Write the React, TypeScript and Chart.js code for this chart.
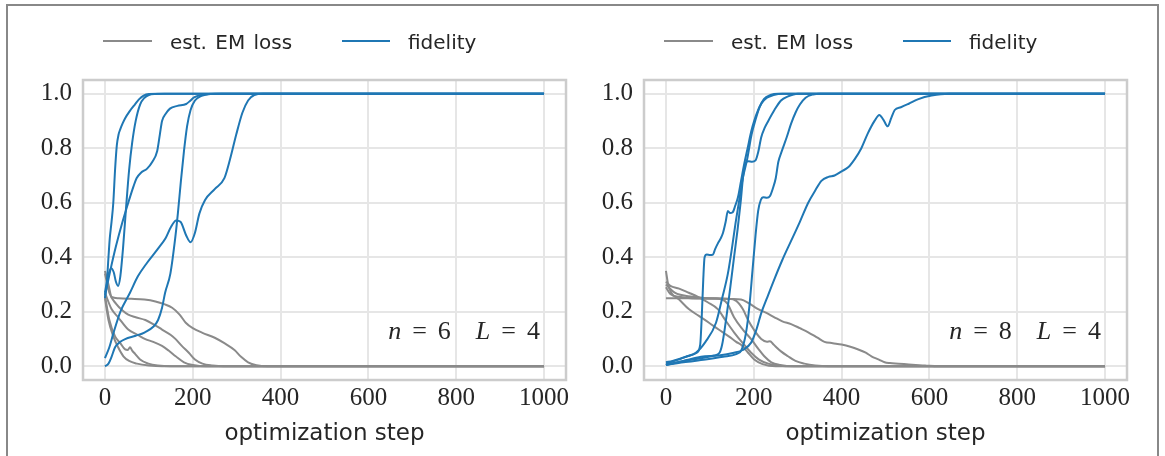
import React, { useEffect, useRef } from 'react';
import { Chart, registerables } from 'chart.js';

Chart.register(...registerables);

type Pt = [number, number];

// ---------- axis ticks & labels ----------
const X_TICKS = [0, 200, 400, 600, 800, 1000];
const Y_TICKS = [0, 0.2, 0.4, 0.6, 0.8, 1.0];
const X_TITLE = 'optimization step';
const LEGEND_LOSS = 'est. EM loss';
const LEGEND_FID = 'fidelity';
const PANEL_N = [6, 8];
const PANEL_L = [4, 4];

// ---------- panel 1 (n = 6) fidelity ----------
const fidN6Run1: Pt[] = [[0, 0.25], [4, 0.3], [8, 0.4], [11, 0.47], [15, 0.53], [19, 0.6], [23, 0.72], [27, 0.81], [31, 0.85], [35, 0.87], [40, 0.89], [46, 0.91], [56, 0.935], [68, 0.96], [78, 0.98], [88, 0.993], [100, 0.999], [120, 1], [1000, 1]];
const fidN6Run2: Pt[] = [[0, 0.27], [7, 0.33], [14, 0.36], [20, 0.345], [25, 0.31], [30, 0.295], [35, 0.33], [41, 0.43], [48, 0.58], [55, 0.72], [62, 0.82], [70, 0.9], [80, 0.96], [90, 0.985], [100, 0.995], [115, 0.999], [135, 1], [1000, 1]];
const fidN6Run3: Pt[] = [[0, 0.26], [12, 0.35], [25, 0.44], [40, 0.53], [55, 0.61], [65, 0.66], [72, 0.69], [82, 0.71], [96, 0.725], [108, 0.75], [119, 0.79], [125, 0.85], [130, 0.9], [138, 0.925], [148, 0.945], [165, 0.955], [185, 0.962], [195, 0.975], [203, 0.986], [220, 0.995], [250, 1], [1000, 1]];
const fidN6Run4: Pt[] = [[0, 0.03], [10, 0.07], [19, 0.12], [35, 0.2], [57, 0.27], [75, 0.33], [96, 0.38], [120, 0.43], [138, 0.47], [150, 0.51], [162, 0.535], [172, 0.53], [185, 0.48], [195, 0.455], [205, 0.49], [215, 0.56], [228, 0.61], [250, 0.65], [272, 0.69], [285, 0.76], [299, 0.85], [313, 0.93], [326, 0.975], [340, 0.995], [360, 1], [1000, 1]];
const fidN6Run5: Pt[] = [[0, 0.0], [8, 0.01], [15, 0.035], [23, 0.07], [35, 0.09], [46, 0.1], [70, 0.112], [91, 0.125], [110, 0.145], [121, 0.17], [130, 0.215], [137, 0.27], [149, 0.34], [160, 0.47], [166, 0.56], [173, 0.68], [180, 0.79], [187, 0.88], [195, 0.94], [205, 0.975], [220, 0.992], [240, 0.999], [265, 1], [1000, 1]];

// ---------- panel 1 (n = 6) est. EM loss ----------
const lossN6Run1: Pt[] = [[0, 0.35], [8, 0.3], [15, 0.255], [30, 0.25], [60, 0.248], [90, 0.245], [115, 0.238], [135, 0.228], [153, 0.215], [170, 0.19], [184, 0.16], [200, 0.14], [222, 0.123], [250, 0.105], [272, 0.085], [295, 0.06], [310, 0.035], [326, 0.015], [345, 0.004], [370, 0], [1000, 0]];
const lossN6Run2: Pt[] = [[0, 0.34], [10, 0.27], [25, 0.23], [40, 0.205], [53, 0.19], [70, 0.18], [92, 0.17], [110, 0.155], [130, 0.135], [150, 0.115], [161, 0.1], [175, 0.075], [191, 0.05], [205, 0.025], [222, 0.01], [245, 0.003], [270, 0], [1000, 0]];
const lossN6Run3: Pt[] = [[0, 0.27], [15, 0.21], [30, 0.18], [53, 0.135], [75, 0.115], [92, 0.1], [110, 0.09], [130, 0.075], [145, 0.058], [161, 0.037], [180, 0.015], [200, 0.005], [230, 0], [1000, 0]];
const lossN6Run4: Pt[] = [[0, 0.26], [10, 0.17], [23, 0.11], [35, 0.085], [46, 0.062], [52, 0.06], [57, 0.07], [62, 0.058], [69, 0.045], [80, 0.025], [99, 0.01], [120, 0.003], [150, 0], [1000, 0]];
const lossN6Run5: Pt[] = [[0, 0.25], [8, 0.17], [19, 0.11], [30, 0.07], [42, 0.037], [55, 0.02], [73, 0.01], [100, 0.003], [130, 0], [1000, 0]];

// ---------- panel 2 (n = 8) fidelity ----------
const fidN8Run1: Pt[] = [[0, 0.015], [15, 0.02], [35, 0.03], [55, 0.04], [70, 0.05], [78, 0.08], [82, 0.2], [85, 0.32], [88, 0.4], [93, 0.41], [100, 0.408], [107, 0.41], [112, 0.43], [118, 0.45], [125, 0.47], [130, 0.49], [136, 0.53], [141, 0.57], [146, 0.562], [152, 0.565], [158, 0.59], [164, 0.62], [171, 0.68], [178, 0.74], [186, 0.8], [194, 0.86], [201, 0.9], [210, 0.94], [218, 0.965], [230, 0.985], [245, 0.995], [265, 1], [1000, 1]];
const fidN8Run2: Pt[] = [[0, 0.01], [20, 0.02], [45, 0.035], [68, 0.05], [90, 0.09], [114, 0.16], [128, 0.25], [141, 0.34], [150, 0.43], [158, 0.52], [166, 0.6], [175, 0.69], [185, 0.76], [195, 0.85], [205, 0.91], [213, 0.95], [223, 0.98], [238, 0.995], [255, 1], [1000, 1]];
const fidN8Run3: Pt[] = [[0, 0.005], [40, 0.02], [80, 0.03], [110, 0.04], [122, 0.05], [128, 0.08], [135, 0.15], [145, 0.27], [155, 0.4], [163, 0.5], [170, 0.6], [176, 0.7], [181, 0.745], [188, 0.752], [196, 0.75], [204, 0.755], [210, 0.785], [217, 0.84], [225, 0.875], [233, 0.9], [247, 0.94], [262, 0.975], [278, 0.99], [300, 1], [1000, 1]];
const fidN8Run4: Pt[] = [[0, 0.005], [40, 0.015], [90, 0.025], [130, 0.035], [160, 0.045], [172, 0.06], [182, 0.12], [190, 0.22], [197, 0.35], [204, 0.48], [210, 0.57], [216, 0.61], [222, 0.62], [230, 0.618], [237, 0.625], [243, 0.65], [250, 0.69], [256, 0.75], [264, 0.79], [275, 0.84], [285, 0.89], [295, 0.93], [305, 0.96], [318, 0.985], [335, 0.997], [350, 1], [1000, 1]];
const fidN8Run5: Pt[] = [[0, 0.005], [40, 0.02], [80, 0.035], [120, 0.04], [155, 0.05], [175, 0.06], [194, 0.087], [205, 0.13], [217, 0.195], [230, 0.25], [247, 0.32], [265, 0.39], [285, 0.46], [305, 0.53], [324, 0.6], [340, 0.645], [354, 0.68], [370, 0.695], [384, 0.7], [400, 0.715], [415, 0.73], [430, 0.76], [445, 0.8], [460, 0.855], [475, 0.9], [486, 0.922], [495, 0.905], [505, 0.88], [513, 0.91], [521, 0.94], [535, 0.95], [553, 0.963], [575, 0.98], [605, 0.993], [644, 1], [1000, 1]];

// ---------- panel 2 (n = 8) est. EM loss ----------
const lossN8Run1: Pt[] = [[0, 0.25], [50, 0.25], [100, 0.248], [150, 0.247], [171, 0.245], [190, 0.23], [210, 0.21], [230, 0.195], [247, 0.18], [265, 0.165], [285, 0.155], [305, 0.14], [324, 0.125], [345, 0.105], [361, 0.09], [380, 0.085], [400, 0.08], [420, 0.072], [438, 0.062], [455, 0.05], [468, 0.037], [485, 0.025], [498, 0.015], [510, 0.012], [530, 0.01], [553, 0.007], [590, 0.003], [620, 0], [1000, 0]];
const lossN8Run2: Pt[] = [[0, 0.31], [10, 0.295], [30, 0.285], [52, 0.27], [73, 0.255], [95, 0.235], [118, 0.21], [135, 0.17], [155, 0.125], [175, 0.085], [194, 0.05], [212, 0.025], [233, 0.01], [260, 0.002], [290, 0], [1000, 0]];
const lossN8Run3: Pt[] = [[0, 0.35], [5, 0.3], [12, 0.27], [30, 0.245], [52, 0.21], [75, 0.185], [98, 0.16], [120, 0.135], [143, 0.11], [160, 0.09], [174, 0.075], [187, 0.05], [201, 0.025], [220, 0.008], [250, 0], [1000, 0]];
const lossN8Run4: Pt[] = [[0, 0.29], [10, 0.265], [30, 0.255], [60, 0.25], [100, 0.25], [128, 0.245], [140, 0.23], [155, 0.18], [175, 0.135], [194, 0.1], [210, 0.065], [224, 0.037], [240, 0.015], [260, 0.005], [290, 0], [1000, 0]];
const lossN8Run5: Pt[] = [[0, 0.3], [20, 0.27], [60, 0.255], [100, 0.25], [140, 0.248], [160, 0.24], [175, 0.21], [187, 0.17], [200, 0.135], [217, 0.1], [230, 0.09], [237, 0.092], [245, 0.08], [262, 0.055], [278, 0.037], [295, 0.02], [315, 0.01], [340, 0.003], [370, 0], [1000, 0]];

const FID_N6 = [fidN6Run1, fidN6Run2, fidN6Run3, fidN6Run4, fidN6Run5];
const LOSS_N6 = [lossN6Run1, lossN6Run2, lossN6Run3, lossN6Run4, lossN6Run5];
const FID_N8 = [fidN8Run1, fidN8Run2, fidN8Run3, fidN8Run4, fidN8Run5];
const LOSS_N8 = [lossN8Run1, lossN8Run2, lossN8Run3, lossN8Run4, lossN8Run5];

const BLUE = '#1f77b4';
const GRAY = '#8a8a8a';
const TEXT = '#262626';
const GRID = '#e6e6e6';
const SPINE = '#cccccc';

const framePlugin = {
  id: 'frame',
  beforeDatasetsDraw(chart: any) {
    const { ctx, chartArea } = chart;
    const { left, top, right, bottom } = chartArea;
    ctx.save();
    ctx.strokeStyle = SPINE;
    ctx.lineWidth = 2.5;
    ctx.strokeRect(left, top, right - left, bottom - top);
    ctx.restore();
  },
};

function makeDataset(points: Pt[], color: string) {
  return {
    data: points.map(([x, y]) => ({ x, y })),
    borderColor: color,
    backgroundColor: color,
    borderWidth: 2,
    pointRadius: 0,
    fill: false,
    cubicInterpolationMode: 'monotone' as const,
  };
}

function buildConfig(fid: Pt[][], loss: Pt[][]): any {
  return {
    type: 'line',
    data: {
      datasets: [
        ...fid.map((p) => makeDataset(p, BLUE)),
        ...loss.map((p) => makeDataset(p, GRAY)),
      ],
    },
    options: {
      animation: false,
      responsive: false,
      maintainAspectRatio: false,
      events: [],
      layout: { padding: { top: 80, right: 14, bottom: 0, left: 0 } },
      plugins: { legend: { display: false }, tooltip: { enabled: false } },
      scales: {
        x: {
          type: 'linear',
          min: -50,
          max: 1050,
          afterBuildTicks: (axis: any) => {
            axis.ticks = X_TICKS.map((v) => ({ value: v }));
          },
          afterFit: (s: any) => {
            s.height = 76;
          },
          grid: { color: GRID, lineWidth: 2, drawTicks: false },
          border: { display: false },
          ticks: {
            padding: 3,
            autoSkip: false,
            maxRotation: 0,
            color: TEXT,
            font: { family: '"Liberation Serif", serif', size: 25 },
            callback: (v: any) => String(v),
          },
          title: {
            display: true,
            text: X_TITLE,
            color: TEXT,
            font: { family: '"DejaVu Sans", sans-serif', size: 23 },
            padding: { top: 0, bottom: 8 },
          },
        },
        y: {
          type: 'linear',
          min: -0.05,
          max: 1.05,
          afterBuildTicks: (axis: any) => {
            axis.ticks = Y_TICKS.map((v) => ({ value: v }));
          },
          afterFit: (s: any) => {
            s.width = 83;
          },
          grid: { color: GRID, lineWidth: 2, drawTicks: false },
          border: { display: false },
          ticks: {
            padding: 11,
            autoSkip: false,
            color: TEXT,
            font: { family: '"Liberation Serif", serif', size: 25 },
            callback: (v: any) => Number(v).toFixed(1),
          },
        },
      },
    },
    plugins: [framePlugin],
  };
}

function Panel({ offset, fid, loss, n, L }: { offset: number; fid: Pt[][]; loss: Pt[][]; n: number; L: number }) {
  const ref = useRef<HTMLCanvasElement>(null);
  useEffect(() => {
    const chart = new Chart(ref.current as HTMLCanvasElement, buildConfig(fid, loss));
    return () => chart.destroy();
  }, [fid, loss]);

  const legendText: React.CSSProperties = {
    position: 'absolute',
    top: 30,
    font: '20px "DejaVu Sans", sans-serif',
    lineHeight: '24px',
    color: TEXT,
    whiteSpace: 'nowrap',
  };
  const eq: React.CSSProperties = { margin: '0 11px' };

  return (
    <>
      <canvas
        ref={ref}
        width={580}
        height={456}
        style={{ position: 'absolute', left: offset, top: 0, width: 580, height: 456 }}
      />
      <div style={{ position: 'absolute', left: offset + 103, top: 40, width: 49, height: 2, background: GRAY }} />
      <div style={{ ...legendText, left: offset + 170, wordSpacing: 2 }}>{LEGEND_LOSS}</div>
      <div style={{ position: 'absolute', left: offset + 342, top: 40, width: 48, height: 2, background: BLUE }} />
      <div style={{ ...legendText, left: offset + 408 }}>{LEGEND_FID}</div>
      <div
        style={{
          position: 'absolute',
          left: offset + 290,
          width: 250,
          top: 316,
          textAlign: 'right',
          whiteSpace: 'nowrap',
          font: '26px "Liberation Serif", serif',
          lineHeight: '30px',
          color: TEXT,
        }}
      >
        <i>n</i>
        <span style={eq}>=</span>
        {n}
        <span style={{ display: 'inline-block', width: 25 }} />
        <i>L</i>
        <span style={eq}>=</span>
        {L}
      </div>
    </>
  );
}

export default function App() {
  return (
    <div style={{ position: 'absolute', left: 0, top: 0, width: 1165, height: 456, overflow: 'hidden', background: '#fff' }}>
      <div
        style={{
          position: 'absolute',
          left: 6,
          top: 4,
          width: 1153,
          height: 600,
          boxSizing: 'border-box',
          border: '2px solid #888888',
        }}
      />
      <Panel offset={0} fid={FID_N6} loss={LOSS_N6} n={PANEL_N[0]} L={PANEL_L[0]} />
      <Panel offset={561} fid={FID_N8} loss={LOSS_N8} n={PANEL_N[1]} L={PANEL_L[1]} />
    </div>
  );
}
